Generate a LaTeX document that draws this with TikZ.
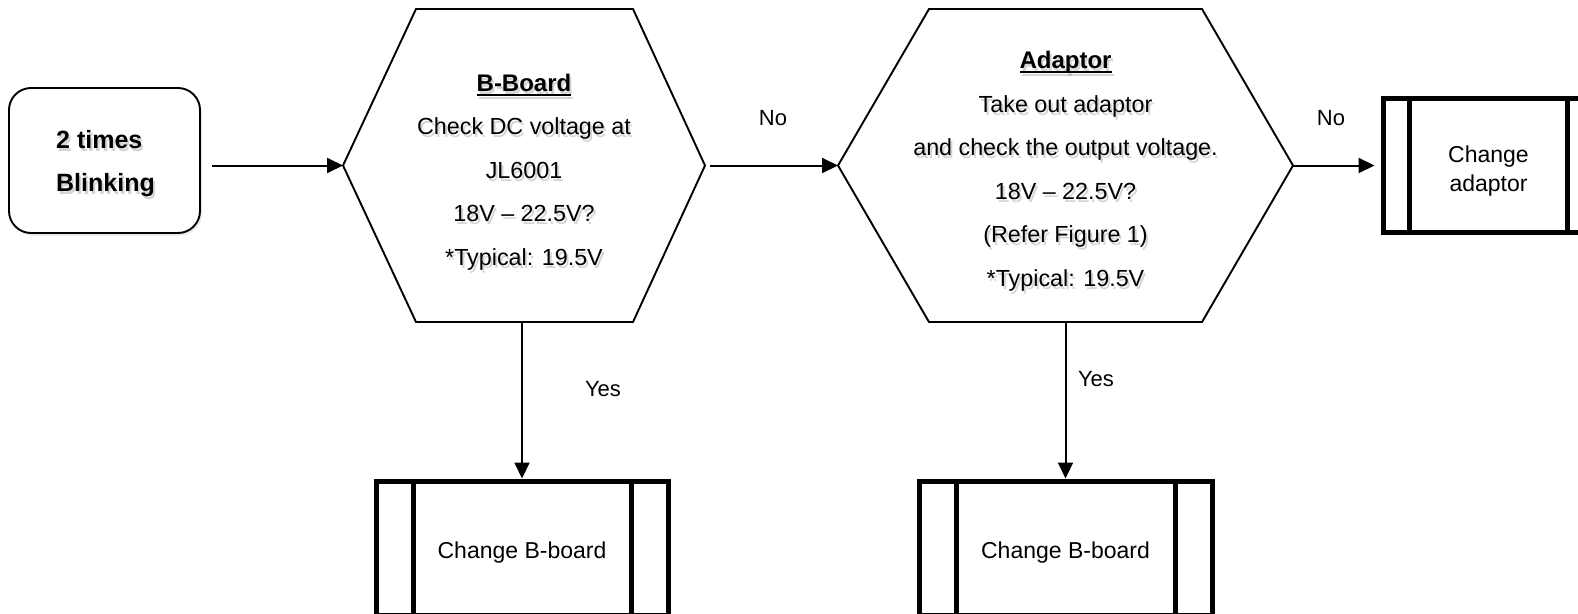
\documentclass[tikz,border=0pt]{standalone}
\usepackage{fontspec}
\setmainfont{Liberation Sans}
\usetikzlibrary{arrows.meta,calc,shadows}

% bold heading with a flat underline just below the baseline
\newsavebox\ulbox
\newcommand\ulword[1]{\sbox\ulbox{#1}\rlap{\rule[-4.5pt]{\wd\ulbox}{1.8pt}}\usebox\ulbox}
\newcommand\headfont{\fontsize{24}{43.5}\selectfont\bfseries}

% decision texts
\newcommand\boardtext{{\headfont\ulword{B-Board}}\\Check DC voltage at\\JL6001\\18V – 22.5V?\\*Typical: 19.5V}
\newcommand\adaptortext{{\headfont\ulword{Adaptor}}\\Take out adaptor\\and check the output voltage.\\18V – 22.5V?\\(Refer Figure 1)\\*Typical: 19.5V}
\newcommand\starttext{2 times\\Blinking}

\begin{document}
\begin{tikzpicture}[x=1pt,y=-1pt,
  frame/.style={draw=none, inner sep=0pt, outer sep=0pt, minimum height=313pt},
  hexline/.style={line width=1.9pt, line join=miter},
  hextext/.style={align=center, inner sep=0pt, font=\fontsize{23.3}{43.5}\selectfont},
  shadowtext/.style={text=black!55, text opacity=0.3},
  startbox/.style={draw, line width=1.9pt, rounded corners=22pt, fill=white,
    minimum width=191pt, minimum height=145pt, inner sep=0pt, outer sep=0pt,
    drop shadow={opacity=0.18, shadow xshift=2pt, shadow yshift=-2.5pt}},
  starttxt/.style={align=left, inner sep=0pt, font=\fontsize{25}{43}\selectfont\bfseries},
  procbox/.style={draw, line width=5pt, minimum width=#1, minimum height=134pt,
    inner sep=0pt, outer sep=0pt},
  proctext/.style={align=center, inner sep=0pt, font=\fontsize{23}{29}\selectfont},
  procline/.style={line width=5pt},
  conn/.style={line width=2pt, -{Triangle[length=16pt,width=15pt]}},
  lbl/.style={inner sep=0pt, font=\fontsize{22}{26}\selectfont}]

\useasboundingbox (0,0) rectangle (1578,613);
\clip (0,0) rectangle (1578,613);

% start terminal
\node[startbox] (start) at (104.5,160.5) {};
\node[starttxt, shadowtext] (startsh) at (107.5,166.5) {\starttext};
\node[starttxt] (startt) at (105.5,163.5) {\starttext};

% first decision: B-Board
\node[frame, minimum width=362pt] (h1) at (524,165.5) {};
\draw[hexline] (h1.west) -- ($(h1.north west)+(73,0)$) -- ($(h1.north east)+(-72,0)$)
  -- (h1.east) -- ($(h1.south east)+(-72,0)$) -- ($(h1.south west)+(73,0)$) -- cycle;
\node[hextext, shadowtext] (h1sh) at (526,175) {\boardtext};
\node[hextext] (h1t) at (524,172) {\boardtext};

% second decision: adaptor
\node[frame, minimum width=455pt] (h2) at (1065.5,165.5) {};
\draw[hexline] (h2.west) -- ($(h2.north west)+(91,0)$) -- ($(h2.north east)+(-91,0)$)
  -- (h2.east) -- ($(h2.south east)+(-91,0)$) -- ($(h2.south west)+(91,0)$) -- cycle;
\node[hextext, shadowtext] (h2sh) at (1067.5,174) {\adaptortext};
\node[hextext] (h2t) at (1065.5,171) {\adaptortext};

% predefined processes
\node[procbox=210pt] (r1) at (1488.5,165.5) {};
\draw[procline] ([xshift=26pt]r1.north west) -- ([xshift=26pt]r1.south west);
\draw[procline] ([xshift=-26pt]r1.north east) -- ([xshift=-26pt]r1.south east);
\node[proctext] (r1t) at (1488.5,171.5) {Change\\adaptor};

\node[procbox=292pt] (b1) at (522,548) {};
\draw[procline] ([xshift=37pt]b1.north west) -- ([xshift=37pt]b1.south west);
\draw[procline] ([xshift=-37pt]b1.north east) -- ([xshift=-37pt]b1.south east);
\node[proctext] (b1t) at (522,553) {Change B-board};

\node[procbox=293pt] (b2) at (1065.5,548) {};
\draw[procline] ([xshift=37pt]b2.north west) -- ([xshift=37pt]b2.south west);
\draw[procline] ([xshift=-37pt]b2.north east) -- ([xshift=-37pt]b2.south east);
\node[proctext] (b2t) at (1065.5,553) {Change B-board};

% connectors
\draw[conn, shorten <=12pt] (start.east |- h1.west) -- (h1.west);
\draw[conn, shorten <=5pt] (h1.east) -- (h2.west);
\draw[conn, shorten >=9pt] (h2.east) -- (r1.west);
\draw[conn, shorten >=2.5pt] (b1.north |- h1.south) -- (b1.north);
\draw[conn, shorten >=2.5pt] (h2.south) -- (b2.north);

% branch labels
\node[lbl] (no1) at (773,118) {No};
\node[lbl] (no2) at (1331,118) {No};
\node[lbl] (yes1) at (603,389) {Yes};
\node[lbl] (yes2) at (1096,379) {Yes};
\end{tikzpicture}
\end{document}
